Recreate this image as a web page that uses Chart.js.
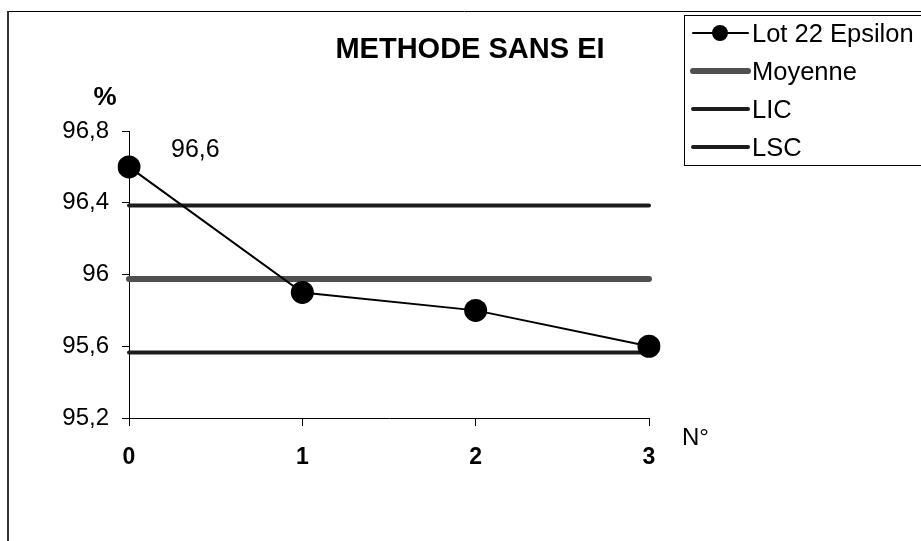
<!DOCTYPE html>
<html>
<head>
<meta charset="utf-8">
<script src="https://cdn.jsdelivr.net/npm/chart.js@4/dist/chart.umd.min.js"></script>
<style>
html,body{margin:0;padding:0;background:#fff;}
canvas{display:block;}
</style>
</head>
<body>
<canvas id="c" width="921" height="541"></canvas>
<script>
// ---- data ----
const categories = ['0', '1', '2', '3'];
const lotValues = [96.6, 95.9, 95.8, 95.6];
const moyenneValues = [95.975, 95.975, 95.975, 95.975];
const licValues = [95.565, 95.565, 95.565, 95.565];
const lscValues = [96.385, 96.385, 96.385, 96.385];
const yTicks = [95.2, 95.6, 96, 96.4, 96.8];
const seriesNames = ['Lot 22 Epsilon', 'Moyenne', 'LIC', 'LSC'];
const titleText = 'METHODE SANS EI';
const yUnit = '%';
const xUnit = 'N°';

const FONT = "'Liberation Sans', Arial, sans-serif";
const fmt = v => (Math.round(v * 10) / 10).toString().replace('.', ',');

const extras = {
  id: 'extras',
  afterDraw(chart) {
    const ctx = chart.ctx;
    ctx.save();
    // outer frame
    ctx.strokeStyle = '#000';
    ctx.lineWidth = 1;
    ctx.beginPath();
    ctx.moveTo(8, 11.5); ctx.lineTo(921, 11.5);
    ctx.stroke();
    ctx.strokeStyle = '#333';
    ctx.lineWidth = 2;
    ctx.beginPath();
    ctx.moveTo(8, 11); ctx.lineTo(8, 541);
    ctx.stroke();

    ctx.fillStyle = '#000';
    ctx.textBaseline = 'alphabetic';
    // title
    ctx.font = 'bold 29px ' + FONT;
    ctx.textAlign = 'center';
    ctx.fillText(titleText, 470, 58);
    // axis units
    ctx.font = 'bold 26px ' + FONT;
    ctx.fillText(yUnit, 105, 105);
    ctx.font = '24px ' + FONT;
    ctx.textAlign = 'left';
    ctx.fillText(xUnit, 682, 445);
    // data label for first point
    const meta = chart.getDatasetMeta(0);
    const p0 = meta.data[0];
    ctx.font = '25px ' + FONT;
    ctx.fillText(fmt(lotValues[0]), p0.x + 42, 157);

    // legend
    ctx.strokeStyle = '#000';
    ctx.lineWidth = 1;
    ctx.strokeRect(684.5, 15.5, 260, 150);
    const ys = [33, 71, 109, 147];
    chart.data.datasets.forEach((ds, i) => {
      const y = ys[i];
      ctx.beginPath();
      ctx.lineCap = 'round';
      ctx.strokeStyle = ds.borderColor;
      ctx.lineWidth = ds.borderWidth;
      ctx.moveTo(693, y); ctx.lineTo(748, y);
      ctx.stroke();
      if (ds.pointRadius > 0) {
        ctx.beginPath();
        ctx.fillStyle = ds.pointBackgroundColor;
        ctx.arc(720, y, 8, 0, Math.PI * 2);
        ctx.fill();
      }
      ctx.fillStyle = '#000';
      ctx.font = '25.5px ' + FONT;
      ctx.textAlign = 'left';
      ctx.fillText(ds.label, 752, y + 9);
    });
    ctx.restore();
  }
};

new Chart(document.getElementById('c'), {
  type: 'line',
  data: {
    labels: categories,
    datasets: [
      { label: seriesNames[0], data: lotValues, borderColor: '#000', borderWidth: 2,
        pointRadius: 11.5, pointBackgroundColor: '#000', pointBorderColor: '#000', pointBorderWidth: 0 },
      { label: seriesNames[1], data: moyenneValues, borderColor: '#505050', borderWidth: 6,
        pointRadius: 0, borderCapStyle: 'round' },
      { label: seriesNames[2], data: licValues, borderColor: '#1c1c1c', borderWidth: 4,
        pointRadius: 0, borderCapStyle: 'round' },
      { label: seriesNames[3], data: lscValues, borderColor: '#1c1c1c', borderWidth: 4,
        pointRadius: 0, borderCapStyle: 'round' }
    ]
  },
  options: {
    responsive: false,
    devicePixelRatio: 1,
    animation: false,
    layout: { padding: { left: 0, right: 272, top: 131, bottom: 0 } },
    plugins: { legend: { display: false }, tooltip: { enabled: false }, title: { display: false } },
    scales: {
      x: {
        type: 'category',
        offset: false,
        grid: { display: true, drawOnChartArea: false, drawTicks: true, tickLength: 8, color: '#000', lineWidth: 1 },
        border: { display: true, color: '#000', width: 1 },
        ticks: { color: '#000', font: { family: FONT, size: 23, weight: 'bold' }, padding: 18, maxRotation: 0 },
        afterFit(s) { s.height = 123; }
      },
      y: {
        min: 95.2, max: 96.8,
        afterBuildTicks(s) { s.ticks = yTicks.map(v => ({ value: v })); },
        grid: { display: true, drawOnChartArea: false, drawTicks: true, tickLength: 7, color: '#000', lineWidth: 1 },
        border: { display: true, color: '#000', width: 1 },
        ticks: { color: '#000', font: { family: FONT, size: 24 }, padding: 13, callback: v => fmt(v) },
        afterFit(s) { s.width = 129; }
      }
    }
  },
  plugins: [extras]
});
</script>
</body>
</html>
